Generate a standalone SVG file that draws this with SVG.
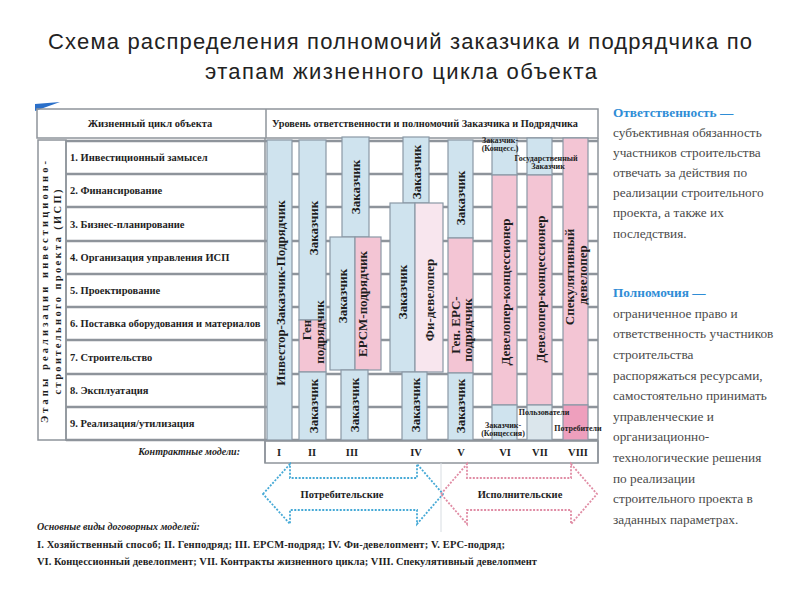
<svg xmlns="http://www.w3.org/2000/svg" width="800" height="600" viewBox="0 0 800 600">
<style>
.title{font-family:"Liberation Sans",Arial,sans-serif;font-size:22px;fill:#222}
.t{font-family:"Liberation Serif","Times New Roman",serif;font-weight:bold;font-size:10.5px;fill:#1e1e1e}
.bl{font-family:"Liberation Serif","Times New Roman",serif;font-weight:bold;font-size:13px;fill:#1e1e1e;text-anchor:middle;dominant-baseline:central}
.sm{font-family:"Liberation Serif","Times New Roman",serif;font-weight:bold;font-size:8px;fill:#1e1e1e;text-anchor:middle}
.it{font-family:"Liberation Serif","Times New Roman",serif;font-weight:bold;font-style:italic;font-size:10px;fill:#1e1e1e}
.def{font-family:"Liberation Serif","Times New Roman",serif;font-size:13.3px;fill:#4a4a4a}
.defh{font-family:"Liberation Serif","Times New Roman",serif;font-size:13.3px;font-weight:bold;fill:#2f8dd6}
.grid{stroke:#8e949b;stroke-width:2.4;fill:none}
.frame{stroke:#8e949b;stroke-width:1.5;fill:none}
.blue{fill:#cfe3ee;stroke:#8a98a6;stroke-width:1.2}
.pink{fill:#f3c5d4;stroke:#8a98a6;stroke-width:1.2}
.lpink{fill:#f8e6ee;stroke:#8a98a6;stroke-width:1.2}
.gblue{fill:#dbe6ec;stroke:#8a98a6;stroke-width:1.2}
.spink{fill:#ee9fbd;stroke:#8a98a6;stroke-width:1.2}
.arrb{fill:none;stroke:#45a9d6;stroke-width:1.8;stroke-dasharray:2 1.5}
.arrp{fill:none;stroke:#e08ca4;stroke-width:1.8;stroke-dasharray:2 1.5}
</style>
<rect width="800" height="600" fill="#ffffff"/>

<g id="title">
<text class="title" x="48" y="49" textLength="704" lengthAdjust="spacing">Схема распределения полномочий заказчика и подрядчика по</text>
<text class="title" x="205" y="79" textLength="392" lengthAdjust="spacing">этапам жизненного цикла объекта</text>
</g>

<g id="table-frame">
<polygon points="35,104 60,102 35,111" fill="#2a6fc9"/>
<rect x="37" y="109" width="561" height="29" fill="#ffffff" class="frame"/>
<line x1="266" y1="109" x2="266" y2="138" class="frame"/>
<text class="t" x="150" y="127" text-anchor="middle">Жизненный цикл объекта</text>
<text class="t" x="425" y="127" text-anchor="middle" textLength="306" lengthAdjust="spacingAndGlyphs">Уровень ответственности и полномочий Заказчика и Подрядчика</text>
<rect x="38" y="140" width="28" height="300" fill="#ffffff" class="frame"/>
<line x1="598" y1="138" x2="598" y2="463" class="frame"/>
</g>

<g id="grid">
<line x1="66" y1="141" x2="598" y2="141" class="grid"/>
<line x1="66" y1="174" x2="598" y2="174" class="grid"/>
<line x1="66" y1="207" x2="598" y2="207" class="grid"/>
<line x1="66" y1="241" x2="598" y2="241" class="grid"/>
<line x1="66" y1="274" x2="598" y2="274" class="grid"/>
<line x1="66" y1="307" x2="598" y2="307" class="grid"/>
<line x1="66" y1="340" x2="598" y2="340" class="grid"/>
<line x1="66" y1="374" x2="598" y2="374" class="grid"/>
<line x1="66" y1="407" x2="598" y2="407" class="grid"/>
<line x1="66" y1="440" x2="598" y2="440" class="grid"/>
<line x1="66" y1="140" x2="66" y2="441" class="frame"/>
<line x1="265" y1="138" x2="265" y2="463" class="frame"/>
</g>

<g id="stage-axis">
<text class="t" font-size="12" text-anchor="middle" transform="translate(48,292) rotate(-90)" textLength="262" lengthAdjust="spacing">Этапы реализации инвестиционно-</text>
<text class="t" font-size="12" text-anchor="middle" transform="translate(61,292) rotate(-90)" textLength="205" lengthAdjust="spacing">строительного проекта (ИСП)</text>
</g>

<g id="stages">
<text class="t" x="70" y="161">1. Инвестиционный замысел</text>
<text class="t" x="70" y="194">2. Финансирование</text>
<text class="t" x="70" y="228">3. Бизнес-планирование</text>
<text class="t" x="70" y="261">4. Организация управления ИСП</text>
<text class="t" x="70" y="294">5. Проектирование</text>
<text class="t" x="70" y="327">6. Поставка оборудования и материалов</text>
<text class="t" x="70" y="361">7. Строительство</text>
<text class="t" x="70" y="394">8. Эксплуатация</text>
<text class="t" x="70" y="427">9. Реализация/утилизация</text>
</g>

<g id="model-I">
<rect x="267" y="140" width="25" height="300" class="blue"/>
<text class="bl" font-size="13.5" transform="translate(280,293) rotate(-90)">Инвестор-Заказчик-Подрядчик</text>
</g>

<g id="model-II">
<rect x="299" y="140" width="27" height="180" class="blue"/>
<text class="bl" transform="translate(313,228) rotate(-90)">Заказчик</text>
<rect x="299" y="320" width="27" height="52" class="pink"/>
<text class="bl" font-size="12" transform="translate(306,330) rotate(-90)">Ген</text>
<text class="bl" font-size="12" transform="translate(319,332) rotate(-90)">подрядчик</text>
<rect x="299" y="372" width="27" height="68" class="blue"/>
<text class="bl" transform="translate(313,406) rotate(-90)">Заказчик</text>
</g>

<g id="model-III">
<rect x="342" y="137" width="27" height="100" class="blue"/>
<text class="bl" transform="translate(355,187) rotate(-90)">Заказчик</text>
<rect x="330" y="237" width="25" height="133" class="blue"/>
<text class="bl" transform="translate(342,296) rotate(-90)">Заказчик</text>
<rect x="355" y="237" width="26" height="133" class="pink"/>
<text class="bl" transform="translate(362,304) rotate(-90)">EPCM-подрядчик</text>
<rect x="341" y="370" width="27" height="70" class="blue"/>
<text class="bl" transform="translate(354,405) rotate(-90)">Заказчик</text>
</g>

<g id="model-IV">
<rect x="403" y="137" width="26" height="66" class="blue"/>
<text class="bl" transform="translate(416,172) rotate(-90)">Заказчик</text>
<rect x="390" y="203" width="25" height="169" class="blue"/>
<text class="bl" transform="translate(402,292) rotate(-90)">Заказчик</text>
<rect x="415" y="203" width="28" height="169" class="lpink"/>
<text class="bl" transform="translate(429,300) rotate(-90)">Фи-девелопер</text>
<rect x="402" y="372" width="25" height="68" class="blue"/>
<text class="bl" transform="translate(415,405) rotate(-90)">Заказчик</text>
</g>

<g id="model-V">
<rect x="448" y="140" width="25" height="98" class="blue"/>
<text class="bl" transform="translate(460,198) rotate(-90)">Заказчик</text>
<rect x="448" y="238" width="25" height="135" class="pink"/>
<text class="bl" font-size="12.5" transform="translate(455,325) rotate(-90)">Ген. EPC-</text>
<text class="bl" font-size="12.5" transform="translate(467,330) rotate(-90)">подрядчик</text>
<rect x="448" y="373" width="25" height="67" class="blue"/>
<text class="bl" transform="translate(460,406) rotate(-90)">Заказчик</text>
</g>

<g id="model-VIII">
<rect x="563" y="138" width="25" height="267" class="pink"/>
<text class="bl" font-size="12.5" transform="translate(569,277) rotate(-90)">Спекулятивный</text>
<text class="bl" font-size="12.5" transform="translate(582,275) rotate(-90)">девелопер</text>
<rect x="563" y="405" width="25" height="35" class="spink"/>
<text class="sm" x="578" y="431">Потребители</text>
</g>

<g id="model-VI">
<rect x="492" y="138" width="25" height="37" class="blue"/>
<rect x="492" y="175" width="25" height="230" class="pink"/>
<text class="bl" transform="translate(505,292) rotate(-90)">Девелопер-концессионер</text>
<rect x="492" y="405" width="25" height="35" class="blue"/>
</g>

<g id="model-VII">
<rect x="527" y="138" width="25" height="37" class="blue"/>
<rect x="527" y="175" width="25" height="230" class="pink"/>
<text class="bl" transform="translate(540,289) rotate(-90)">Девелопер-концессионер</text>
<rect x="527" y="405" width="25" height="35" class="gblue"/>
</g>

<g id="overflow-labels">
<text class="sm" x="500" y="143">Заказчик-</text>
<text class="sm" x="500" y="151">(Концесс.)</text>
<text class="sm" x="503" y="428">Заказчик-</text>
<text class="sm" x="503" y="436">(Концессия)</text>
<text class="sm" x="546" y="161">Государственный</text>
<text class="sm" x="548" y="169">Заказчик</text>
<text class="sm" x="544" y="415">Пользователи</text>
</g>

<g id="contract-models">
<text class="it" x="240" y="455" text-anchor="end">Контрактные модели:</text>
<rect x="265" y="441" width="333" height="22" fill="#ffffff" class="frame"/>
<g class="t" font-size="11" text-anchor="middle">
<text x="279" y="456">I</text>
<text x="312" y="456">II</text>
<text x="352" y="456">III</text>
<text x="416" y="456">IV</text>
<text x="461" y="456">V</text>
<text x="505" y="456">VI</text>
<text x="540" y="456">VII</text>
<text x="578" y="456">VIII</text>
</g>
</g>

<g id="connectors">
<line x1="441" y1="463" x2="441" y2="532" stroke="#d8dde2" stroke-width="1"/>
<path class="arrb" d="M263,494 L290,464 L290,478 L417,478 L417,464 L443,494 L417,524 L417,510 L290,510 L290,524 Z"/>
<path class="arrp" d="M441,494 L467,464 L467,478 L571,478 L571,464 L597,494 L571,524 L571,510 L467,510 L467,524 Z"/>
<text class="t" x="342" y="498" text-anchor="middle">Потребительские</text>
<text class="t" x="520" y="498" text-anchor="middle">Исполнительские</text>
</g>

<g id="legend">
<text class="it" x="37" y="530" font-size="10">Основные виды договорных моделей:</text>
<text class="t" x="37" y="548" font-size="10" textLength="468" lengthAdjust="spacing">I. Хозяйственный способ; II. Генподряд; III. EPCM-подряд; IV. Фи-девелопмент; V. EPC-подряд;</text>
<text class="t" x="37" y="565" font-size="10" textLength="500" lengthAdjust="spacing">VI. Концессионный девелопмент; VII. Контракты жизненного цикла; VIII. Спекулятивный девелопмент</text>
</g>

<g id="definition-responsibility">
<text class="defh" x="613" y="117">Ответственность —</text>
<text class="def" x="613" y="137">субъективная обязанность</text>
<text class="def" x="613" y="157">участников строительства</text>
<text class="def" x="613" y="177">отвечать за действия по</text>
<text class="def" x="613" y="197">реализации строительного</text>
<text class="def" x="613" y="217">проекта, а также их</text>
<text class="def" x="613" y="238">последствия.</text>
</g>

<g id="definition-authority">
<text class="defh" x="613" y="297">Полномочия —</text>
<text class="def" x="613" y="318">ограниченное право и</text>
<text class="def" x="613" y="338">ответственность участников</text>
<text class="def" x="613" y="359">строительства</text>
<text class="def" x="613" y="380">распоряжаться ресурсами,</text>
<text class="def" x="613" y="400">самостоятельно принимать</text>
<text class="def" x="613" y="421">управленческие и</text>
<text class="def" x="613" y="441">организационно-</text>
<text class="def" x="613" y="462">технологические решения</text>
<text class="def" x="613" y="483">по реализации</text>
<text class="def" x="613" y="503">строительного проекта в</text>
<text class="def" x="613" y="524">заданных параметрах.</text>
</g>
</svg>
